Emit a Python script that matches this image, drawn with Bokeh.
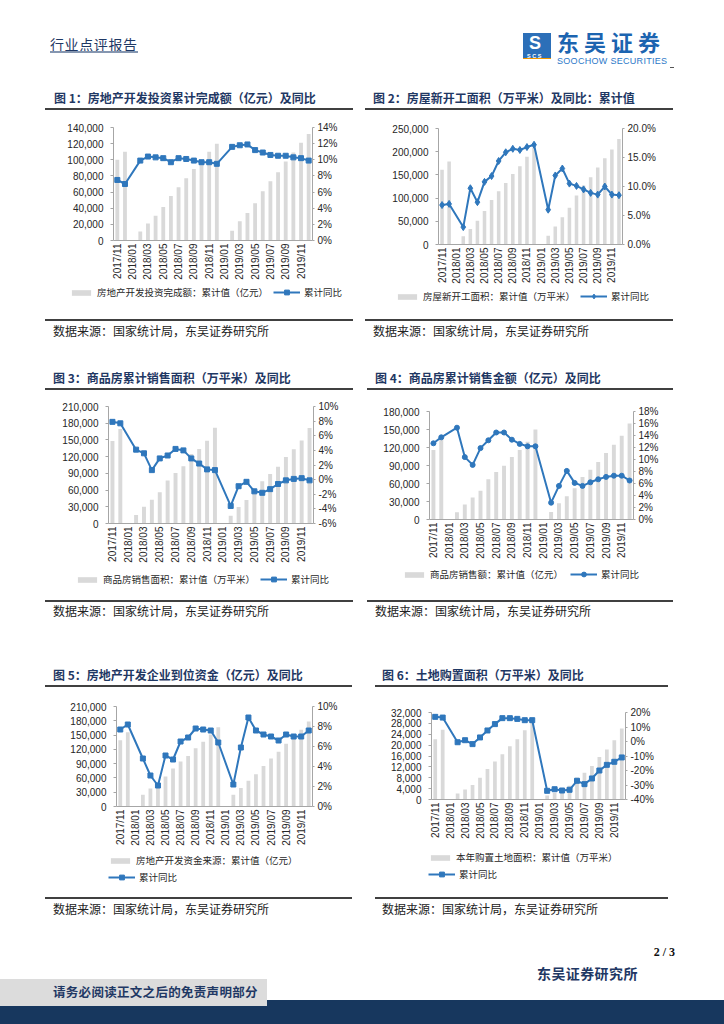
import math
from bokeh.plotting import figure
from bokeh.models import (ColumnDataSource, LinearAxis, Range1d, FixedTicker,
                          NumeralTickFormatter, PrintfTickFormatter, Legend, LegendItem,
                          Div, Spacer)
from bokeh.layouts import row, column
from bokeh.core.properties import value
from bokeh.embed import file_html
from bokeh.resources import INLINE

# ---------------- data ----------------
months = ["2017/11", "2017/12", "2018/01", "2018/02", "2018/03", "2018/04", "2018/05",
          "2018/06", "2018/07", "2018/08", "2018/09", "2018/10", "2018/11", "2018/12",
          "2019/01", "2019/02", "2019/03", "2019/04", "2019/05", "2019/06", "2019/07",
          "2019/08", "2019/09", "2019/10", "2019/11", "2019/12"]

inv_val = [100000, 110000, None, 11000, 21000, 30600, 41600, 55000, 66000, 77000, 88600,
           99000, 110000, 120000, None, 12000, 24000, 34000, 46000, 61000, 73500, 84500,
           98000, 109000, 121000, 132000]
inv_yoy = [7.5, 7.0, None, 9.9, 10.4, 10.3, 10.2, 9.7, 10.2, 10.1, 9.9, 9.7, 9.7, 9.5,
           None, 11.6, 11.8, 11.9, 11.2, 10.9, 10.6, 10.5, 10.5, 10.3, 10.2, 9.9]

start_val = [161000, 179000, None, 17900, 33600, 51400, 72400, 95800, 114800, 132800,
             152200, 168900, 188900, 209300, None, 18800, 38700, 58500, 79200, 105500,
             127100, 145100, 165700, 185700, 204600, 227200]
start_yoy = [6.8, 7.0, None, 3.0, 9.7, 7.3, 10.8, 11.8, 14.4, 15.9, 16.5, 16.3, 16.8, 17.2,
             None, 6.0, 11.9, 13.1, 10.5, 10.1, 9.5, 8.9, 8.6, 10.0, 8.6, 8.5]

area_val = [148000, 169400, None, 15400, 30100, 42600, 56000, 77100, 90600, 102600,
            124600, 133700, 148600, 171700, None, 14100, 29800, 42400, 55500, 75800,
            88800, 101800, 119200, 133300, 148900, 171600]
area_yoy = [7.9, 7.7, None, 4.1, 3.6, 1.3, 2.9, 3.3, 4.2, 4.0, 2.9, 2.2, 1.4, 1.3,
            None, -3.6, -0.9, -0.3, -1.6, -1.8, -1.3, -0.6, -0.1, 0.1, 0.2, -0.1]

amt_val = [115700, 133700, None, 12000, 25000, 36500, 48000, 67000, 79000, 89700, 104000,
           116000, 129500, 150000, None, 12300, 27000, 38700, 52000, 70900, 83000, 95800,
           110800, 124600, 139500, 160000]
amt_yoy = [12.7, 13.7, None, 15.3, 10.4, 9.1, 11.9, 13.2, 14.5, 14.5, 13.3, 12.6, 12.2,
           12.2, None, 2.8, 5.6, 8.1, 6.1, 5.6, 6.2, 6.7, 7.1, 7.3, 7.3, 6.5]

fund_val = [139000, 156000, None, 24500, 37800, 50000, 63000, 79800, 94500, 106000,
            122500, 135800, 151000, 166600, None, 24500, 39000, 54000, 67500, 85000,
            100800, 114800, 131600, 146000, 161000, 178600]
fund_yoy = [7.7, 8.2, None, 4.8, 3.1, 2.1, 5.1, 4.7, 6.5, 6.9, 7.8, 7.7, 7.6, 6.4,
            None, 2.2, 5.9, 8.9, 7.6, 7.2, 7.0, 6.6, 7.2, 7.0, 7.0, 7.6]

land_val = [22200, 25700, None, 2200, 3700, 5300, 8000, 11200, 14000, 16600, 19600, 22200,
            25500, 29100, None, 1500, 2500, 3800, 5100, 8100, 9800, 12300, 15600, 18400,
            21800, 26100]
land_yoy = [17.0, 16.5, None, -0.5, 0.9, -1.8, 2.8, 7.6, 12.0, 16.1, 16.1, 15.6, 14.7,
            14.7, None, -34.0, -32.9, -33.8, -33.3, -27.1, -29.4, -25.5, -20.0, -16.1,
            -14.0, -11.0]

titles = ["图 1：房地产开发投资累计完成额（亿元）及同比",
          "图 2：房屋新开工面积（万平米）及同比：累计值",
          "图 3：商品房累计销售面积（万平米）及同比",
          "图 4：商品房累计销售金额（亿元）及同比",
          "图 5：房地产开发企业到位资金（亿元）及同比",
          "图 6：土地购置面积（万平米）及同比"]
bar_labels = ["房地产开发投资完成额：累计值（亿元）",
              "房屋新开工面积：累计值（万平米）",
              "商品房销售面积：累计值（万平米）",
              "商品房销售额：累计值（亿元）",
              "房地产开发资金来源：累计值（亿元）",
              "本年购置土地面积：累计值（万平米）"]
line_label = "累计同比"
source_text = "数据来源：国家统计局，东吴证券研究所"

CJK = "Noto Sans CJK SC"
NUM = "Liberation Sans"
BLUE = "#2f77bc"
BAR = "#d9d9d9"
NAVY = "#1f3864"
AX = "#a6a6a6"
TXT = "#262626"
PW = 308


def no_align(fig):
    try:
        fig.frame_align = False
    except Exception:
        pass


def style_axis(a, tick_out, standoff):
    a.major_tick_out = tick_out
    a.major_tick_in = 0
    a.minor_tick_out = 0
    a.minor_tick_in = 0
    a.major_tick_line_color = AX
    a.axis_line_color = AX
    a.major_label_standoff = standoff
    a.major_label_text_font = NUM
    a.major_label_text_font_size = "10px"
    a.major_label_text_color = TXT


def chart(vals, yoy, bar_label, yl, lticks, yr, rticks, rfmt, marker,
          h, bl, br, bt, bb, hl, bar_loc, line_loc):
    p = figure(width=PW, height=h, output_backend="svg", toolbar_location=None,
               x_range=Range1d(-0.5, 25.5), y_range=Range1d(*yl),
               min_border_left=bl, min_border_right=br,
               min_border_top=bt, min_border_bottom=bb)
    no_align(p)
    p.outline_line_color = None
    p.background_fill_color = "white"
    p.border_fill_color = "white"
    p.xgrid.visible = False
    p.ygrid.visible = False
    p.extra_y_ranges = {"pct": Range1d(*yr)}

    bx = [i for i, v in enumerate(vals) if v is not None]
    bsrc = ColumnDataSource(dict(x=bx, v=[vals[i] for i in bx]))
    lx = [i for i, v in enumerate(yoy) if v is not None]
    lsrc = ColumnDataSource(dict(x=lx, v=[yoy[i] for i in lx]))
    msize = 7 if marker == "diamond" else 5

    p.vbar(x="x", top="v", width=0.5, source=bsrc, fill_color=BAR, line_color=None)
    p.line(x="x", y="v", source=lsrc, y_range_name="pct", line_color=BLUE, line_width=2)
    p.scatter(x="x", y="v", source=lsrc, y_range_name="pct", marker=marker,
              size=msize, fill_color=BLUE, line_color=BLUE)

    xa = p.xaxis[0]
    xa.ticker = FixedTicker(ticks=list(range(0, 26, 2)), minor_ticks=[])
    xa.major_label_overrides = {i: months[i] for i in range(0, 26, 2)}
    xa.major_label_orientation = math.pi / 2
    style_axis(xa, 0, 3)

    ya = p.yaxis[0]
    ya.ticker = FixedTicker(ticks=lticks, minor_ticks=[])
    ya.formatter = NumeralTickFormatter(format="0,0")
    style_axis(ya, 3, 7)

    ra = LinearAxis(y_range_name="pct", ticker=FixedTicker(ticks=rticks, minor_ticks=[]),
                    formatter=PrintfTickFormatter(format=rfmt))
    style_axis(ra, 2, 3)
    p.add_layout(ra, "right")

    # legend strip: a separate plot whose ranges keep its glyphs out of view
    q = figure(width=PW, height=hl, output_backend="svg", toolbar_location=None,
               x_axis_location=None, y_axis_location=None,
               x_range=Range1d(1000, 1001), y_range=Range1d(1e9, 1e9 + 1),
               min_border=0, min_border_left=0, min_border_right=0,
               min_border_top=0, min_border_bottom=0)
    no_align(q)
    q.outline_line_color = None
    q.grid.visible = False
    q.extra_y_ranges = {"pct": Range1d(1e9, 1e9 + 1)}
    qb = q.vbar(x="x", top="v", width=0.5, source=bsrc, fill_color=BAR, line_color=None)
    ql = q.line(x="x", y="v", source=lsrc, y_range_name="pct", line_color=BLUE, line_width=2)
    qs = q.scatter(x="x", y="v", source=lsrc, y_range_name="pct", marker=marker,
                   size=msize, fill_color=BLUE, line_color=BLUE)

    def leg(item, loc, gh, gw):
        lg = Legend(items=[item], location=loc, orientation="vertical",
                    glyph_height=gh, glyph_width=gw, label_height=12,
                    label_standoff=4, spacing=0, padding=0, margin=0,
                    border_line_color=None, background_fill_alpha=0,
                    label_text_font=CJK, label_text_font_size="9.5px",
                    label_text_color=TXT)
        q.add_layout(lg)

    leg(LegendItem(label=value(bar_label), renderers=[qb]), bar_loc, 7, 24)
    leg(LegendItem(label=value(line_label), renderers=[ql, qs]), line_loc, 12, 27)
    return p, q


def txt(s, left, cy, size, color, weight="normal", family=CJK, ls=0, width=None,
        align="left", lhf=1.4):
    lh = round(size * lhf)
    wcss = f"width:{width}px;" if width else ""
    return (f'<div style="position:absolute;left:{left}px;top:{cy - lh / 2}px;{wcss}'
            f'height:{lh}px;line-height:{lh}px;font-family:\'{family}\';font-size:{size}px;'
            f'font-weight:{weight};color:{color};letter-spacing:{ls}px;white-space:nowrap;'
            f'text-align:{align};">{s}</div>')


def box(left, top, w, h, color):
    return (f'<div style="position:absolute;left:{left}px;top:{top}px;width:{w}px;'
            f'height:{h}px;background:{color};"></div>')


def div(html, w, h):
    return Div(text=f'<div style="position:relative;width:{w}px;height:{h}px;">{html}</div>',
               width=w, height=h, margin=0)


def title_div(t, h, tl, rl, rw):
    return div(txt(t, tl, h - 13, 12, NAVY, "bold") + box(rl, h - 2, rw, 2, "#404040"), PW, h)


def src_div(h, cy, tl, rl, rw):
    return div(box(rl, 0, rw, 2, "#404040") + txt(source_text, tl, cy, 12, "#222222"), PW, h)


# ---------------- charts ----------------
p1, q1 = chart(inv_val, inv_yoy, bar_labels[0], (0, 140000), list(range(0, 140001, 20000)),
               (0, 14), list(range(0, 15, 2)), "%d%%", "square",
               176, 68, 41, 17, 46, 33, (24, 20), (228, 20))
p2, q2 = chart(start_val, start_yoy, bar_labels[1], (0, 250000), list(range(0, 250001, 50000)),
               (0, 20), list(range(0, 21, 5)), "%.1f%%", "diamond",
               176, 73, 51, 18, 41, 33, (30, 16), (215, 16))
p3, q3 = chart(area_val, area_yoy, bar_labels[2], (0, 210000), list(range(0, 210001, 30000)),
               (-6, 10), list(range(-6, 11, 2)), "%d%%", "square",
               175, 63, 40, 16, 41, 35, (30, 14), (215, 14))
p4, q4 = chart(amt_val, amt_yoy, bar_labels[3], (0, 180000), list(range(0, 180001, 30000)),
               (0, 18), list(range(0, 19, 2)), "%d%%", "circle",
               175, 64, 40, 21, 46, 35, (37, 19), (205, 19))
p5, q5 = chart(fund_val, fund_yoy, bar_labels[4], (0, 210000), list(range(0, 210001, 30000)),
               (0, 10), list(range(0, 11, 2)), "%d%%", "square",
               163, 71, 41, 19, 44, 47, (63, 30), (63, 13))
p6, q6 = chart(land_val, land_yoy, bar_labels[5], (0, 32000), list(range(0, 32001, 4000)),
               (-40, 20), list(range(-40, 21, 10)), "%d%%", "square",
               163, 66, 48, 25, 51, 47, (63, 33), (63, 16))

panel1 = column(title_div(titles[0], 24, 9, 0, 308), p1, q1, src_div(31, 11, 8, 0, 308), spacing=0)
panel2 = column(title_div(titles[1], 24, 8, 0, 308), p2, q2, src_div(31, 11, 8, 0, 308), spacing=0)
panel3 = column(title_div(titles[2], 40, 8, 0, 308), p3, q3, src_div(40, 10, 8, 0, 308), spacing=0)
panel4 = column(title_div(titles[3], 40, 10, 2, 306), p4, q4, src_div(40, 10, 10, 2, 306), spacing=0)
panel5 = column(title_div(titles[4], 47, 8, 0, 307), p5, q5, src_div(32, 11, 8, 0, 307), spacing=0)
panel6 = column(title_div(titles[5], 47, 17, 10, 293), p6, q6, src_div(32, 11, 17, 10, 293), spacing=0)

row1 = row(Spacer(width=45, height=264), panel1, Spacer(width=12, height=264), panel2, spacing=0)
row2 = row(Spacer(width=45, height=290), panel3, Spacer(width=12, height=290), panel4, spacing=0)
row3 = row(Spacer(width=45, height=289), panel5, Spacer(width=12, height=289), panel6, spacing=0)

# ---------------- header / footer ----------------
header_html = (
    txt("行业点评报告", 50, 44, 14, NAVY, ls=0.6)
    + box(50, 51, 88, 2, "#8596b0")
    + box(523, 33, 28, 20, "#2c6fb8")
    + txt("S", 529, 43, 18, "white", "bold", NUM, lhf=1.1)
    + box(523, 53, 28, 5, "#2c6fb8")
    + txt("SCS", 527, 55.5, 5.5, "white", "bold", NUM, ls=1.5, lhf=1.0)
    + box(523, 58, 28, 1, "#f39800")
    + txt("东吴证券", 557, 40.5, 22, "#1c64b0", "bold", ls=5, lhf=1.0)
    + txt("SOOCHOW SECURITIES", 557, 61.5, 9, "#2b78c8", family=NUM, ls=0.3, lhf=1.0)
    + box(670, 67, 4, 1, "#555555")
)
header = div(header_html, 724, 86)

footer_html = (
    txt("2 / 3", 600, 23, 12, "#111111", "bold", "Liberation Serif", width=75, align="right")
    + txt("东吴证券研究所", 537, 44, 14, NAVY, "bold", ls=0.4)
    + box(0, 71, 724, 24, "#17375e")
    + box(0, 50, 267, 27, "#dcdcdc")
    + txt("请务必阅读正文之后的免责声明部分", 53, 63, 12.5, NAVY, "bold", ls=0.3)
)
footer = div(footer_html, 724, 95)

page = column(header, row1, row2, row3, footer, spacing=0)

open("out.html", "w").write(file_html(page, INLINE))
